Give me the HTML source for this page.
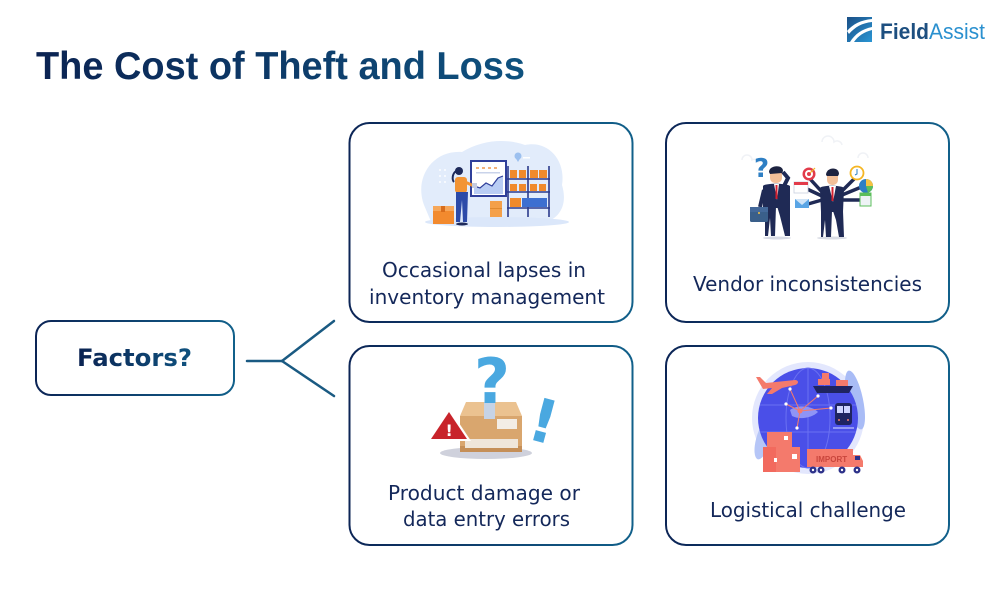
<!DOCTYPE html>
<html><head><meta charset="utf-8"><style>
html,body{margin:0;padding:0;background:#fff;}
svg{display:block;}
</style></head><body>
<svg width="1000" height="600" viewBox="0 0 1000 600" xmlns="http://www.w3.org/2000/svg">
<defs>
<linearGradient id="bg" x1="0" y1="0" x2="1" y2="0">
<stop offset="0" stop-color="#0c2556"/><stop offset="1" stop-color="#11608a"/>
</linearGradient>
<linearGradient id="tg" x1="0" y1="0" x2="1" y2="0">
<stop offset="0" stop-color="#0b2352"/><stop offset="1" stop-color="#0f527f"/>
</linearGradient>
<linearGradient id="lg" x1="0" y1="0" x2="1" y2="1">
<stop offset="0" stop-color="#1b4f86"/><stop offset="1" stop-color="#2a96d4"/>
</linearGradient>
</defs>
<rect width="1000" height="600" fill="#fff"/>

<!-- Logo -->
<rect x="847" y="17" width="25" height="25" fill="url(#lg)"/>
<path d="M847,31 C853,24 861,20 872,19 L872,22 C862,23 855,27 849,34 Z" fill="#fff"/>
<path d="M850,42 C855,34 862,29 872,27 L872,30 C864,32 858,36 854,42 Z" fill="#fff"/>
<text x="880" y="39" font-family="Liberation Sans, sans-serif" font-size="22" textLength="105" lengthAdjust="spacingAndGlyphs"><tspan fill="#1d4f80" font-weight="bold">Field</tspan><tspan fill="#2a90cf">Assist</tspan></text>

<!-- Title -->
<text x="36" y="79" font-family="Liberation Sans, sans-serif" font-weight="bold" font-size="39" fill="url(#tg)" textLength="489" lengthAdjust="spacingAndGlyphs">The Cost of Theft and Loss</text>

<!-- Factors box -->
<rect x="36" y="321" width="198" height="74" rx="15" fill="#fff" stroke="url(#bg)" stroke-width="2"/>
<text x="77" y="366" font-family="DejaVu Sans, sans-serif" font-weight="bold" font-size="24" fill="url(#tg)" textLength="115" lengthAdjust="spacingAndGlyphs">Factors?</text>

<!-- Connector -->
<g stroke="#1a5a82" stroke-width="2.5" fill="none" stroke-linecap="round">
<line x1="247" y1="361" x2="282" y2="361"/>
<line x1="282" y1="361" x2="334" y2="321"/>
<line x1="282" y1="361" x2="334" y2="396"/>
</g>

<!-- Cards -->
<rect x="349.5" y="123" width="283" height="199" rx="20" fill="#fff" stroke="url(#bg)" stroke-width="2"/>
<rect x="666" y="123" width="283" height="199" rx="20" fill="#fff" stroke="url(#bg)" stroke-width="2"/>
<rect x="349.5" y="346" width="283" height="199" rx="20" fill="#fff" stroke="url(#bg)" stroke-width="2"/>
<rect x="666" y="346" width="283" height="199" rx="20" fill="#fff" stroke="url(#bg)" stroke-width="2"/>

<!-- Card labels -->
<g font-family="DejaVu Sans, sans-serif" font-size="20" fill="#14285a">
<text x="382" y="277" textLength="204" lengthAdjust="spacingAndGlyphs">Occasional lapses in</text>
<text x="369" y="304" textLength="236" lengthAdjust="spacingAndGlyphs">inventory management</text>
<text x="693" y="291" textLength="229" lengthAdjust="spacingAndGlyphs">Vendor inconsistencies</text>
<text x="388" y="500" textLength="192" lengthAdjust="spacingAndGlyphs">Product damage or</text>
<text x="403" y="526" textLength="167" lengthAdjust="spacingAndGlyphs">data entry errors</text>
<text x="710" y="517" textLength="196" lengthAdjust="spacingAndGlyphs">Logistical challenge</text>
</g>

<!-- Card 1 illustration -->
<g>
<path d="M424,205 C414,178 432,150 462,152 C482,140 505,138 525,145 C548,140 566,160 562,185 C568,205 560,220 540,224 L432,224 Z" fill="#e2ecfb"/>
<ellipse cx="497" cy="222" rx="72" ry="5" fill="#dbe7fa"/>
<g fill="#ffffff" opacity="0.9">
<circle cx="440" cy="170" r="1"/><circle cx="445" cy="170" r="1"/><circle cx="440" cy="176" r="1"/><circle cx="445" cy="176" r="1"/><circle cx="440" cy="182" r="1"/><circle cx="445" cy="182" r="1"/>
</g>
<!-- board -->
<rect x="471" y="161" width="35" height="35" fill="#fff" stroke="#2f3f9a" stroke-width="2"/>
<g fill="#f3b27a"><rect x="476" y="167" width="3" height="2"/><rect x="482" y="167" width="3" height="2"/><rect x="488" y="167" width="3" height="2"/><rect x="494" y="167" width="3" height="2"/></g>
<rect x="476" y="172" width="24" height="1.5" fill="#c9d3ea"/>
<path d="M474,194 L474,186 L480,188 L486,183 L492,186 L498,178 L503,176 L503,194 Z" fill="#b9cdf4"/>
<polyline points="474,186 480,188 486,183 492,186 498,178 503,176" fill="none" stroke="#2f3f9a" stroke-width="1.2"/>
<!-- pin -->
<circle cx="518" cy="156" r="3.5" fill="#9cc0ef"/><path d="M515,157 L518,162 L521,157 Z" fill="#9cc0ef"/>
<rect x="523" y="157" width="7" height="1.5" fill="#fff"/>
<!-- shelf -->
<g stroke="#2b3a8c" stroke-width="1.6">
<line x1="508" y1="166" x2="508" y2="217"/><line x1="549" y1="166" x2="549" y2="217"/><line x1="528" y1="166" x2="528" y2="217"/>
<line x1="507" y1="179" x2="550" y2="179"/><line x1="507" y1="192" x2="550" y2="192"/><line x1="507" y1="208" x2="550" y2="208"/>
</g>
<g fill="#f08a2c">
<rect x="510" y="170" width="7" height="8"/><rect x="519" y="170" width="7" height="8"/><rect x="530" y="170" width="8" height="8"/><rect x="539" y="170" width="8" height="8"/>
<rect x="510" y="184" width="7" height="7"/><rect x="519" y="184" width="7" height="7"/><rect x="530" y="184" width="7" height="7"/><rect x="539" y="184" width="7" height="7"/>
<rect x="510" y="198" width="11" height="9"/>
</g>
<rect x="522" y="198" width="25" height="9" fill="#3d6fd0"/>
<!-- woman -->
<circle cx="459" cy="171" r="4" fill="#1e2a5a"/>
<path d="M456,171 C452,174 452,180 454,182" stroke="#1e2a5a" stroke-width="2" fill="none"/>
<rect x="455" y="177" width="12" height="16" rx="3" fill="#f29434"/>
<line x1="465" y1="182" x2="474" y2="186" stroke="#f29434" stroke-width="3"/>
<rect x="472" y="183" width="5" height="5" fill="#c5cce0"/>
<path d="M456,192 L468,192 L467,222 L463,222 L462,200 L460,222 L456,222 Z" fill="#2c4aa8"/>
<ellipse cx="462" cy="224" rx="6" ry="1.5" fill="#1e2a5a"/>
<!-- boxes -->
<rect x="433" y="206" width="21" height="18" fill="#f28a2e"/>
<rect x="433" y="206" width="21" height="5" fill="#f6a75a"/>
<rect x="441" y="206" width="4" height="6" fill="#d86d1c"/>
<rect x="490" y="201" width="12" height="16" fill="#f4a04a"/>
<rect x="490" y="208" width="12" height="1" fill="#e0892f"/>
</g>

<!-- Card 2 illustration -->
<g>
<g fill="none" stroke="#f0f2f6" stroke-width="1.5">
<path d="M742,160 a5,5 0 0 1 10,0 a4,4 0 0 1 6,3"/>
<path d="M822,142 a6,6 0 0 1 12,0 a5,5 0 0 1 8,3"/>
<path d="M858,158 a5,5 0 0 1 10,0"/>
</g>
<text x="754" y="177" font-family="DejaVu Sans, sans-serif" font-weight="bold" font-size="26" fill="#2e7fc4">?</text>
<!-- man 1 -->
<ellipse cx="777" cy="238" rx="14" ry="1.5" fill="#d8dbe4"/>
<rect x="770" y="168" width="12" height="15" rx="5" fill="#f2bf98"/>
<path d="M769,172 C769,165 783,164 783,171 L782,173 L770,174 Z" fill="#1d2340"/>
<path d="M763,186 C764,183 787,183 790,186 L790,208 L763,208 Z" fill="#1f2a55"/>
<path d="M784,186 L788,178 L783,172" stroke="#1f2a55" stroke-width="4" fill="none"/>
<path d="M774,184 L779,184 L777,200 Z" fill="#fff"/>
<line x1="776.5" y1="185" x2="776.5" y2="199" stroke="#d6202f" stroke-width="2"/>
<path d="M765,206 L776,206 L775,236 L771,236 L770,218 L768,236 L765,236 Z" fill="#1f2a55"/>
<path d="M777,206 L790,206 L790,236 L785,236 L780,216 Z" fill="#1f2a55"/>
<line x1="764" y1="190" x2="760" y2="207" stroke="#1f2a55" stroke-width="4"/>
<rect x="750" y="207" width="18" height="15" rx="1.5" fill="#3a5f8a"/>
<rect x="750" y="207" width="18" height="5" fill="#44699a"/>
<circle cx="759" cy="213" r="1" fill="#f5c242"/>
<!-- man 2 -->
<ellipse cx="832" cy="238" rx="15" ry="1.5" fill="#d8dbe4"/>
<rect x="827" y="171" width="11" height="14" rx="5" fill="#f2bf98"/>
<path d="M826,175 C826,167 839,166 839,174 L838,176 L827,176 Z" fill="#1d2340"/>
<path d="M820,188 C821,185 842,185 844,188 L843,212 L821,212 Z" fill="#1f2a55"/>
<path d="M829,186 L836,186 L833,202 Z" fill="#fff"/>
<line x1="832.5" y1="187" x2="832.5" y2="201" stroke="#d6202f" stroke-width="2"/>
<path d="M821,211 L832,211 L831,237 L826,237 L825,220 L823,237 L821,237 Z" fill="#1f2a55"/>
<path d="M833,211 L843,211 L844,237 L839,237 L836,220 Z" fill="#1f2a55"/>
<g stroke="#1f2a55" stroke-width="3.5" stroke-linecap="round">
<line x1="822" y1="192" x2="811" y2="180"/>
<line x1="822" y1="196" x2="807" y2="189"/>
<line x1="822" y1="200" x2="808" y2="204"/>
<line x1="842" y1="191" x2="854" y2="179"/>
<line x1="842" y1="195" x2="859" y2="188"/>
<line x1="842" y1="200" x2="860" y2="200"/>
</g>
<circle cx="809" cy="174" r="6.5" fill="#e23b4a"/><circle cx="809" cy="174" r="4" fill="#fff"/><circle cx="809" cy="174" r="2" fill="#e23b4a"/>
<line x1="810" y1="173" x2="815" y2="168" stroke="#f5b623" stroke-width="1.2"/>
<rect x="794" y="182" width="14" height="11" fill="#fff" stroke="#c9cfe0" stroke-width="0.8"/>
<rect x="794" y="182" width="14" height="3" fill="#e23b4a"/>
<rect x="795" y="199" width="14" height="9" fill="#5aa5e5"/>
<path d="M795,199 L802,205 L809,199 Z" fill="#cfe4f8"/>
<circle cx="857" cy="173" r="6.5" fill="#fff" stroke="#f5b623" stroke-width="1.8"/>
<path d="M857,169 L857,174 L855,175" stroke="#2e7fc4" stroke-width="1" fill="none"/>
<circle cx="866" cy="186" r="7" fill="#2e7fc4"/>
<path d="M866,186 L866,179 A7,7 0 0 1 873,186 Z" fill="#f5c242"/>
<path d="M866,186 L873,186 A7,7 0 0 1 868,192.7 Z" fill="#5cbf5c"/>
<rect x="860" y="193" width="11" height="13" fill="#eef3f6" stroke="#5cbf5c" stroke-width="1"/>
<rect x="860" y="193" width="11" height="3" fill="#5cbf5c"/>
</g>

<!-- Card 3 illustration -->
<g>
<ellipse cx="486" cy="453" rx="46" ry="6" fill="#cfd1dc"/>
<polygon points="466,402 516,402 522,416 460,416" fill="#ebc290"/>
<rect x="460" y="416" width="62" height="36" fill="#d9a66e"/>
<rect x="460" y="446" width="62" height="6" fill="#c58f58"/>
<rect x="484" y="402" width="11" height="17" fill="#c6d3e6"/>
<rect x="497" y="419" width="20" height="10" fill="#f3ede5"/>
<rect x="465" y="439" width="53" height="9" fill="#efe6da"/>
<polygon points="449,408 427,441 471,441" fill="#fff"/>
<polygon points="449,412 431,439 467,439" fill="#c8242b"/>
<text x="445.5" y="436" font-family="DejaVu Sans, sans-serif" font-weight="bold" font-size="16" fill="#fff">!</text>
<text x="474" y="403" font-family="DejaVu Sans, sans-serif" font-weight="bold" font-size="62" fill="#4aa8e0">?</text>
<text x="0" y="0" font-family="DejaVu Sans, sans-serif" font-weight="bold" font-size="60" fill="#4aa8e0" transform="translate(525,438) rotate(15)">!</text>
</g>

<!-- Card 4 illustration -->
<g>
<circle cx="808" cy="418" r="56" fill="#e3e7fd"/>
<ellipse cx="855" cy="400" rx="8" ry="30" fill="#a9bcf6" transform="rotate(-12 855 400)"/>
<ellipse cx="763" cy="440" rx="7" ry="20" fill="#b6c6f7" transform="rotate(15 763 440)"/>
<circle cx="808" cy="418" r="50" fill="#4a4fe8"/>
<g fill="none" stroke="#6b71f2" stroke-width="1">
<ellipse cx="808" cy="418" rx="22" ry="50"/>
<line x1="808" y1="368" x2="808" y2="468"/>
<line x1="760" y1="405" x2="856" y2="405"/>
<line x1="760" y1="432" x2="856" y2="432"/>
</g>
<path d="M790,410 C798,404 812,406 818,412 C812,418 800,420 792,416 Z" fill="#8f94f6"/>
<g stroke="#f47a6c" stroke-width="1">
<line x1="800" y1="411" x2="790" y2="389"/><line x1="800" y1="411" x2="786" y2="404"/><line x1="800" y1="411" x2="818" y2="396"/><line x1="800" y1="411" x2="831" y2="408"/><line x1="800" y1="411" x2="797" y2="428"/>
</g>
<circle cx="800" cy="411" r="2.5" fill="#f47a6c"/>
<g fill="#fff"><circle cx="790" cy="389" r="1.6"/><circle cx="786" cy="404" r="1.6"/><circle cx="818" cy="396" r="1.6"/><circle cx="831" cy="408" r="1.6"/><circle cx="797" cy="428" r="1.6"/></g>
<!-- plane -->
<path d="M756,377 L760,377 L766,383 L795,380 C799,380 799,384 795,385 L782,388 L772,394 L767,394 L772,388 L763,389 Z" fill="#f47a6c"/>
<!-- ship -->
<rect x="822" y="373" width="7" height="6" fill="#f47a6c"/>
<rect x="818" y="379" width="12" height="6" fill="#f47a6c"/>
<rect x="836" y="380" width="12" height="6" fill="#f47a6c"/>
<polygon points="813,386 853,386 849,393 817,393" fill="#1f2461"/>
<!-- train -->
<rect x="835" y="403" width="17" height="22" rx="3" fill="#1f2461"/>
<rect x="837" y="406" width="6" height="7" fill="#cfd4ff"/><rect x="844" y="406" width="6" height="7" fill="#cfd4ff"/>
<circle cx="839" cy="420" r="1" fill="#f47a6c"/><circle cx="848" cy="420" r="1" fill="#f47a6c"/>
<line x1="833" y1="428" x2="854" y2="428" stroke="#dfe3ff" stroke-width="1"/>
<!-- boxes -->
<rect x="767" y="432" width="25" height="15" fill="#f47a6c"/>
<rect x="763" y="447" width="18" height="25" fill="#f26a5e"/>
<rect x="776" y="447" width="24" height="25" fill="#f47a6c"/>
<rect x="784" y="436" width="4" height="4" fill="#fff"/><rect x="792" y="454" width="5" height="5" fill="#fff"/><rect x="774" y="458" width="3" height="4" fill="#fff"/>
<!-- truck -->
<rect x="807" y="449" width="46" height="18" fill="#f47a6c"/>
<path d="M853,455 L860,455 L863,461 L863,467 L853,467 Z" fill="#f47a6c"/>
<rect x="855" y="456" width="5" height="4" fill="#2d3189"/>
<text x="816" y="462" font-family="Liberation Sans, sans-serif" font-weight="bold" font-size="8" fill="#c9463d">IMPORT</text>
<g fill="#2d3189"><circle cx="813" cy="470" r="3.5"/><circle cx="821" cy="470" r="3.5"/><circle cx="842" cy="470" r="3.5"/><circle cx="857" cy="470" r="3.5"/></g>
<g fill="#fff"><circle cx="813" cy="470" r="1.2"/><circle cx="821" cy="470" r="1.2"/><circle cx="842" cy="470" r="1.2"/><circle cx="857" cy="470" r="1.2"/></g>
</g>
</svg>
</body></html>
